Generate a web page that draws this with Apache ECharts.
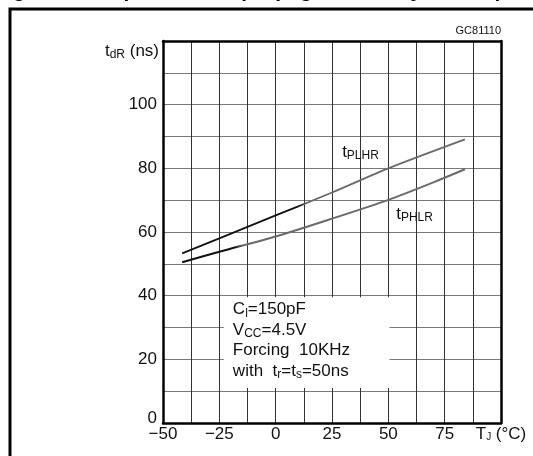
<!DOCTYPE html>
<html>
<head>
<meta charset="utf-8">
<script src="https://cdn.jsdelivr.net/npm/echarts@6/dist/echarts.min.js"></script>
<style>
  html, body { margin: 0; padding: 0; background: #fff; }
  #main { width: 533px; height: 456px; }
</style>
</head>
<body>
<div id="main"></div>
<script>
  // values
  const xMin = -50, xMax = 100, xStep = 12.5;
  const yMin = 0, yMax = 120, yStep = 10;
  const xTickLabels = [-50, -25, 0, 25, 50, 75];
  const yTickLabels = [0, 20, 40, 60, 80, 100];

  const tempPLHR = [-41.5, -25, 0, 25, 50, 84];
  const tPLHR = [53.3, 58.0, 65.2, 72.4, 80.0, 89.1];
  const tempPHLR = [-41.5, -25, 0, 25, 50, 70, 84];
  const tPHLR = [50.5, 53.8, 58.6, 64.2, 70.1, 75.6, 79.7];

  const font = 'Liberation Sans';
  const txt = { fontFamily: font, fontSize: 17, color: '#111' };
  const sub = { fontFamily: font, fontSize: 12, color: '#111', padding: [7, 0, 0, 0] };

  function pairs(xs, ys) {
    return xs.map((x, i) => [x, ys[i]]);
  }

  // black at the left end, grey at the right end (like the scan)
  function twoTone(cut) {
    return new echarts.graphic.LinearGradient(0, 0, 1, 0, [
      { offset: 0, color: '#111' },
      { offset: cut, color: '#111' },
      { offset: cut + 0.03, color: '#6a6a6a' },
      { offset: 1, color: '#6a6a6a' }
    ]);
  }

  let myChart = echarts.init(document.getElementById('main'));

  const frameAxis = {
    show: true,
    lineStyle: { color: '#000', width: 2.5 },
    onZero: false
  };

  let option = {
    animation: false,
    backgroundColor: '#fff',
    grid: { left: 163, right: 32, top: 41, bottom: 33 },
    graphic: [
      {
        type: 'rect',
        shape: { x: 10, y: 9, width: 600, height: 500 },
        style: { fill: 'none', stroke: '#000', lineWidth: 3 }
      },
      {
        type: 'text',
        left: -6, top: -19,
        style: { text: 'Figure 9. Output rise/fall propagation delay vs temperature', font: 'bold 21px Liberation Sans', fill: '#000' }
      },
      {
        type: 'text',
        right: 32, top: 25,
        style: { text: 'GC81110', font: '11px Liberation Sans', fill: '#111' }
      }
    ],
    xAxis: [
      {
        type: 'value', min: xMin, max: xMax, interval: xStep,
        axisLine: frameAxis,
        axisTick: { show: false },
        axisLabel: Object.assign({}, txt, {
          margin: 3,
          formatter: function (v) {
            if (v === xMax) return '{t|T}{s|J}{t| (°C)}';
            return xTickLabels.indexOf(v) >= 0 ? String(v).replace('-', '\u2212') : '';
          },
          rich: { t: txt, s: { fontFamily: font, fontSize: 10, color: '#111', padding: [6, 0, 0, 0] } }
        }),
        splitLine: { show: true, lineStyle: { color: '#333', width: 1 } }
      },
      {
        type: 'value', position: 'top', min: xMin, max: xMax, interval: xStep,
        axisLine: frameAxis, axisTick: { show: false }, axisLabel: { show: false },
        splitLine: { show: false }
      }
    ],
    yAxis: [
      {
        type: 'value', min: yMin, max: yMax, interval: yStep,
        axisLine: frameAxis,
        axisTick: { show: false },
        axisLabel: Object.assign({}, txt, {
          margin: 6,
          formatter: function (v) {
            if (v === 0) return '{z|0}';
            return yTickLabels.indexOf(v) >= 0 ? String(v) : '';
          },
          rich: { z: Object.assign({}, txt, { padding: [0, 0, 10, 0] }) }
        }),
        splitLine: { show: true, lineStyle: { color: '#7a7a7a', width: 1 } },
        name: '{t|t}{s|dR}{t| (ns)}',
        nameLocation: 'end',
        nameGap: -10,
        nameTextStyle: {
          align: 'right', verticalAlign: 'middle', padding: [0, 4, 0, 0],
          rich: { t: txt, s: sub }
        }
      },
      {
        type: 'value', position: 'right', min: yMin, max: yMax, interval: yStep,
        axisLine: frameAxis, axisTick: { show: false }, axisLabel: { show: false },
        splitLine: { show: false }
      }
    ],
    series: [
      {
        name: 'tPLHR',
        type: 'line',
        data: pairs(tempPLHR, tPLHR),
        smooth: 0.3,
        showSymbol: false,
        lineStyle: { width: 1.8, color: twoTone(0.41) },
        markPoint: {
          symbol: 'circle', symbolSize: 0,
          data: [
            {
              coord: [29.5, 85],
              label: { formatter: '{t|t}{s|PLHR}' }
            },
            {
              // test conditions
              coord: [-19, 25.9],
              label: {
                formatter: '{t|C}{s|l}{t|=150pF}\n{t|V}{s|CC}{t|=4.5V}\n{t|Forcing  10KHz}\n{t|with  t}{s|r}{t|=t}{s|s}{t|=50ns}'
              }
            }
          ],
          label: {
            show: true, position: 'right', distance: 0, align: 'left',
            rich: {
              t: Object.assign({}, txt, { lineHeight: 20.5 }),
              s: Object.assign({}, sub, { lineHeight: 20.5 })
            }
          }
        },
        // white patch behind the test conditions
        markArea: {
          silent: true,
          itemStyle: { color: '#fff' },
          data: [[{ coord: [-23, 39.5] }, { coord: [50.5, 11] }]]
        }
      },
      {
        name: 'tPHLR',
        type: 'line',
        data: pairs(tempPHLR, tPHLR),
        smooth: 0.3,
        showSymbol: false,
        lineStyle: { width: 2, color: twoTone(0.19) },
        markPoint: {
          symbol: 'circle', symbolSize: 0,
          data: [{ coord: [53.5, 65.6] }],
          label: {
            show: true, position: 'right', distance: 0,
            formatter: '{t|t}{s|PHLR}',
            rich: { t: txt, s: sub }
          }
        }
      }
    ]
  };

  myChart.setOption(option);
</script>
</body>
</html>
